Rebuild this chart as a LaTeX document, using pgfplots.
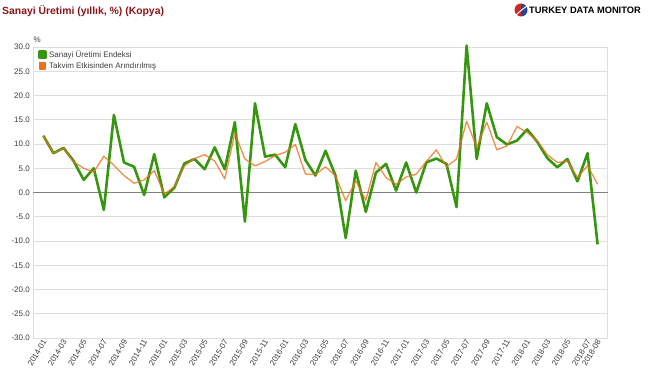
\documentclass[border=0pt]{standalone}
\usepackage{fontspec}
\setmainfont{Liberation Sans}
\usepackage{pgfplots}
\pgfplotsset{compat=1.18}
\definecolor{sgreen}{RGB}{55,150,15}
\definecolor{sorange}{RGB}{235,115,30}
\definecolor{titlered}{RGB}{140,20,25}
\definecolor{txtgray}{RGB}{60,60,60}
\definecolor{gridgray}{RGB}{222,222,222}
\definecolor{logored}{RGB}{200,40,40}
\definecolor{logoblue}{RGB}{40,70,150}
\begin{document}
\begin{tikzpicture}[x=1pt,y=1pt]
% title
\node[anchor=base west, inner sep=0pt, font=\bfseries\fontsize{10.4}{12}\selectfont, text=titlered] at (2,370) {Sanayi Üretimi (yıllık, \%) (Kopya)};
% logo
\fill[logored] (521,374) ++(90:6.5) arc (90:270:6.5) -- cycle;
\fill[logoblue] (521,374) ++(-90:6.5) arc (-90:90:6.5) -- cycle;
\draw[white, line width=1pt] (516,369) .. controls (520,373) and (523,375) .. (527,378);
\node[anchor=base west, inner sep=0pt, font=\bfseries\fontsize{9.3}{10}\selectfont] at (529,370.5) {TURKEY DATA MONITOR};
\begin{axis}[
  at={(33.3pt,46pt)}, anchor=south west,
  scale only axis, width=574.4pt, height=291pt,
  xmin=-1, xmax=56, ymin=-30, ymax=30,
  ytick={-30,-25,...,30},
  yticklabel style={/pgf/number format/.cd, fixed, fixed zerofill, precision=1},
  /pgf/number format/assume math mode=true,
  ymajorgrids, major grid style={gridgray, line width=0.9pt},
  axis line style={gridgray, line width=0.8pt},
  major tick length=0pt,
  tick label style={font=\fontsize{8}{9}\selectfont, text=txtgray},
  xtick={0,2,...,54,55},
  xticklabels={2014-01,2014-03,2014-05,2014-07,2014-09,2014-11,
    2015-01,2015-03,2015-05,2015-07,2015-09,2015-11,
    2016-01,2016-03,2016-05,2016-07,2016-09,2016-11,
    2017-01,2017-03,2017-05,2017-07,2017-09,2017-11,
    2018-01,2018-03,2018-05,2018-07,2018-08},
  xticklabel style={rotate=60, anchor=east, inner sep=1pt, yshift=-2pt},
  clip=false,
  legend style={draw=none, fill=none, at={(0.006,0.998)}, anchor=north west,
    font=\fontsize{8}{9}\selectfont, text=txtgray, row sep=-0.5pt, inner sep=1pt},
  legend cell align=left,
  legend image code/.code={\fill[#1, opacity=1] (0pt,-3pt) rectangle (6.5pt,3.5pt);},
]
\draw[gray, line width=1.6pt] (axis cs:-1,0) -- (axis cs:56,0);
\addplot[sgreen, line width=2.6pt, line join=round] coordinates {
(0,11.7)(1,8.1)(2,9.2)(3,6.5)(4,2.6)(5,5.0)(6,-3.6)(7,16.0)(8,6.2)(9,5.3)
(10,-0.5)(11,7.9)(12,-1.0)(13,1.0)(14,6.0)(15,6.9)(16,4.8)(17,9.3)(18,4.8)(19,14.5)
(20,-6.0)(21,18.4)(22,7.4)(23,7.8)(24,5.2)(25,14.1)(26,6.7)(27,3.5)(28,8.6)(29,3.4)
(30,-9.4)(31,4.5)(32,-4.0)(33,4.1)(34,5.9)(35,0.4)(36,6.2)(37,0.0)(38,6.2)(39,7.0)
(40,5.9)(41,-3.0)(42,30.3)(43,6.9)(44,18.4)(45,11.4)(46,9.9)(47,10.7)(48,13.0)(49,10.5)
(50,7.1)(51,5.2)(52,6.9)(53,2.3)(54,8.1)(55,-10.7)};
\addlegendentry{Sanayi Üretimi Endeksi}
\addplot[sorange, line width=1.3pt, opacity=0.8, line join=round] coordinates {
(0,11.7)(1,8.1)(2,9.2)(3,6.3)(4,5.0)(5,4.2)(6,7.5)(7,5.6)(8,3.5)(9,1.9)
(10,2.6)(11,4.5)(12,-0.3)(13,1.2)(14,5.5)(15,7.0)(16,7.8)(17,6.5)(18,2.8)(19,12.2)
(20,6.9)(21,5.5)(22,6.4)(23,7.6)(24,8.3)(25,9.9)(26,3.8)(27,3.7)(28,5.3)(29,3.4)
(30,-1.7)(31,2.4)(32,-1.6)(33,6.2)(34,3.1)(35,1.7)(36,3.2)(37,3.8)(38,6.4)(39,8.8)
(40,5.3)(41,6.9)(42,14.7)(43,9.3)(44,14.5)(45,8.8)(46,9.6)(47,13.6)(48,12.4)(49,10.7)
(50,7.8)(51,6.2)(52,6.5)(53,3.1)(54,5.5)(55,1.7)};
\addlegendentry{Takvim Etkisinden Arındırılmış}
\node[anchor=south west, inner sep=0pt, font=\fontsize{8}{9}\selectfont, text=txtgray] at (rel axis cs:0,1) [yshift=4pt] {\%};
\end{axis}
\pgfresetboundingbox
\path[use as bounding box] (0,0) rectangle (648,384);
\end{tikzpicture}
\end{document}
